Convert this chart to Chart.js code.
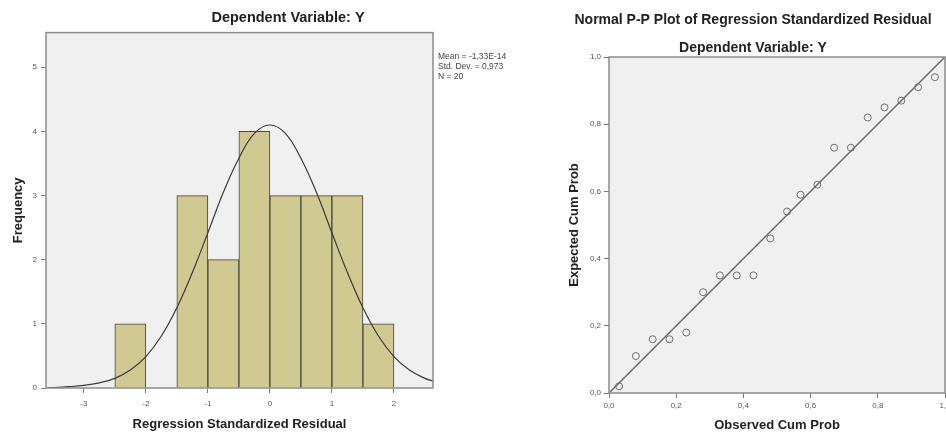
<!DOCTYPE html>
<html>
<head>
<meta charset="utf-8">
<script src="https://cdn.jsdelivr.net/npm/chart.js@4.4.1/dist/chart.umd.min.js"></script>
<style>
    html, body { margin: 0; padding: 0; background: #fff; width: 946px; height: 432px; overflow: hidden; position: relative; }
    #hist { position: absolute; left: 0; top: 0; }
    #pp { position: absolute; left: 540px; top: 0; }
</style>
</head>
<body>
<canvas id="hist" width="576" height="432"></canvas>
<canvas id="pp" width="426" height="432"></canvas>
<script>
// ── Histogram data ──
const binCenters = [-2.25, -1.75, -1.25, -0.75, -0.25, 0.25, 0.75, 1.25, 1.75];
const binCounts = [1, 0, 3, 2, 4, 3, 3, 3, 1];
const curveX = [-3.61, -3.25, -3.0, -2.75, -2.5, -2.25, -2.0, -1.75, -1.5, -1.25, -1.0, -0.75, -0.5, -0.25,
    0.0, 0.25, 0.5, 0.75, 1.0, 1.25, 1.5, 1.75, 2.0, 2.25, 2.5, 2.63];
const curveY = [0.0, 0.02, 0.04, 0.08, 0.15, 0.28, 0.49, 0.81, 1.25, 1.80, 2.42, 3.05, 3.58, 3.97,
    4.10, 3.97, 3.58, 3.05, 2.42, 1.80, 1.25, 0.81, 0.49, 0.28, 0.15, 0.11];
const histXTicks = [-3, -2, -1, 0, 1, 2];
const histYTicks = [0, 1, 2, 3, 4, 5];
const statsLines = ["Mean = -1,33E-14", "Std. Dev. = 0,973", "N = 20"];

// ── P-P plot data ──
const observedCum = [0.03, 0.08, 0.13, 0.18, 0.23, 0.28, 0.33, 0.38, 0.43, 0.48,
    0.53, 0.57, 0.62, 0.67, 0.72, 0.77, 0.82, 0.87, 0.92, 0.97];
const expectedCum = [0.02, 0.11, 0.16, 0.16, 0.18, 0.30, 0.35, 0.35, 0.35, 0.46,
    0.54, 0.59, 0.62, 0.73, 0.73, 0.82, 0.85, 0.87, 0.91, 0.94];
const refLine = [0, 1];
const ppTicks = [0, 0.2, 0.4, 0.6, 0.8, 1.0];

const FONT = "'Liberation Sans', Arial, sans-serif";
const comma = (v) => v.toFixed(1).replace(".", ",");

// plot background + frame, like SPSS
const framePlugin = {
    id: "frame",
    beforeDraw(chart) {
        const { ctx, chartArea: a } = chart;
        ctx.save();
        ctx.fillStyle = "#f0f0f0";
        ctx.fillRect(a.left, a.top, a.right - a.left, a.bottom - a.top);
        ctx.restore();
    },
    afterDatasetsDraw(chart) {
        const { ctx, chartArea: a } = chart;
        ctx.save();
        ctx.strokeStyle = "#8c8c8c";
        ctx.lineWidth = 1.5;
        ctx.strokeRect(a.left, a.top, a.right - a.left, a.bottom - a.top);
        ctx.restore();
    },
};

const statsPlugin = {
    id: "stats",
    afterDraw(chart) {
        const { ctx, chartArea: a } = chart;
        ctx.save();
        ctx.font = "8.5px " + FONT;
        ctx.fillStyle = "#444";
        ctx.textBaseline = "middle";
        statsLines.forEach((t, i) => ctx.fillText(t, a.right + 5, 57 + i * 10));
        ctx.restore();
    },
};

function tickOpts(cb, pad = 3) {
    return {
        font: { family: FONT, size: 8 },
        color: "#555",
        padding: pad,
        autoSkip: false,
        maxRotation: 0,
        callback: cb,
    };
}
const gridOpts = { drawOnChartArea: false, drawTicks: true, tickLength: 5, color: "#777" };
const axisTitle = (text, pad) => ({
    display: true,
    text,
    color: "#222",
    font: { family: FONT, size: 13, weight: "bold", lineHeight: 1 },
    padding: pad,
});
// empty right-hand axis, only reserves room (legend text / clipped edge)
const spacer = (w) => ({
    position: "right",
    display: true,
    grid: { display: false },
    border: { display: false },
    ticks: { display: false },
    afterFit: (s) => { s.width = w; },
});
const titleFont = (size) => ({ family: FONT, size, weight: "bold", lineHeight: 1.2 });

// ── Histogram ──
new Chart(document.getElementById("hist"), {
    type: "bar",
    data: {
        datasets: [
            {
                type: "line",
                data: curveX.map((x, i) => ({ x, y: curveY[i] })),
                borderColor: "#3a3a3a",
                borderWidth: 1.2,
                pointRadius: 0,
                tension: 0.4,
                fill: false,
                order: 0,
            },
            {
                type: "bar",
                data: binCenters.map((x, i) => ({ x, y: binCounts[i] })),
                backgroundColor: "#d0c991",
                borderColor: "#46463a",
                borderWidth: 1,
                barPercentage: 1,
                categoryPercentage: 1,
                order: 1,
            },
        ],
    },
    options: {
        responsive: false,
        animation: false,
        layout: { padding: 0 },
        plugins: {
            legend: { display: false },
            tooltip: { enabled: false },
            title: {
                display: true,
                text: "Dependent Variable: Y",
                color: "#222",
                font: titleFont(14.5),
                padding: { top: 9.6, bottom: 5.6 },
            },
        },
        scales: {
            x: {
                type: "linear",
                offset: false,
                min: -3.61,
                max: 2.63,
                afterBuildTicks: (s) => { s.ticks = histXTicks.map((v) => ({ value: v })); },
                afterFit: (s) => { s.height = 44; },
                grid: { ...gridOpts, offset: false },
                border: { display: false },
                ticks: tickOpts((v) => String(v), 6),
                title: axisTitle("Regression Standardized Residual", { top: 0, bottom: 1.5 }),
            },
            y: {
                min: 0,
                max: 5.54,
                afterBuildTicks: (s) => { s.ticks = histYTicks.map((v) => ({ value: v })); },
                afterFit: (s) => { s.width = 46; },
                grid: gridOpts,
                border: { display: false },
                ticks: tickOpts((v) => String(v), 4),
                title: axisTitle("Frequency", { top: 11.5, bottom: 0 }),
            },
            pad: spacer(143),
        },
    },
    plugins: [framePlugin, statsPlugin],
});

// ── Normal P-P plot ──
new Chart(document.getElementById("pp"), {
    type: "scatter",
    data: {
        datasets: [
            {
                type: "line",
                data: refLine.map((v) => ({ x: v, y: v })),
                borderColor: "#6a6a6a",
                borderWidth: 1.5,
                pointRadius: 0,
                fill: false,
                order: 1,
            },
            {
                data: observedCum.map((x, i) => ({ x, y: expectedCum[i] })),
                pointStyle: "circle",
                pointRadius: 3.5,
                borderColor: "#6e6e6e",
                backgroundColor: "rgba(0,0,0,0)",
                borderWidth: 1,
                order: 0,
            },
        ],
    },
    options: {
        responsive: false,
        animation: false,
        layout: { padding: 0 },
        plugins: {
            legend: { display: false },
            tooltip: { enabled: false },
            title: {
                display: true,
                text: "Normal P-P Plot of Regression Standardized Residual",
                color: "#222",
                font: titleFont(14),
                padding: { top: 11.6, bottom: 0 },
            },
            subtitle: {
                display: true,
                text: "Dependent Variable: Y",
                color: "#222",
                font: titleFont(14),
                padding: { top: 11.2, bottom: 0.6 },
            },
        },
        scales: {
            x: {
                type: "linear",
                min: 0,
                max: 1,
                afterBuildTicks: (s) => { s.ticks = ppTicks.map((v) => ({ value: v })); },
                afterFit: (s) => { s.height = 39; },
                grid: gridOpts,
                border: { display: false },
                ticks: tickOpts(comma),
                title: axisTitle("Observed Cum Prob", { top: 0, bottom: 0 }),
            },
            y: {
                min: 0,
                max: 1,
                afterBuildTicks: (s) => { s.ticks = ppTicks.map((v) => ({ value: v })); },
                afterFit: (s) => { s.width = 69; },
                grid: gridOpts,
                border: { display: false },
                ticks: tickOpts(comma),
                title: axisTitle("Expected Cum Prob", { top: 27.5, bottom: 0 }),
            },
            pad: spacer(21),
        },
    },
    plugins: [framePlugin],
});
</script>
</body>
</html>
